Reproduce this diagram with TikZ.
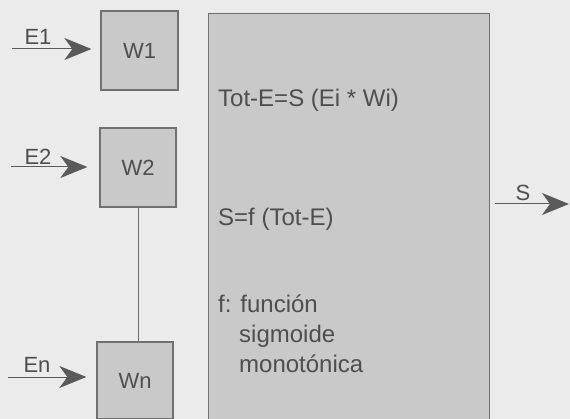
\documentclass[tikz,border=0pt]{standalone}
\usepackage{fontspec}
\setmainfont{Liberation Sans}
\usetikzlibrary{arrows.meta}
\definecolor{bg}{HTML}{EBEBEB}
\definecolor{boxfill}{HTML}{C9C9C9}
\definecolor{boxline}{HTML}{707070}
\definecolor{ink}{HTML}{4E4E4E}
\definecolor{arrowc}{HTML}{5A5A5A}
\begin{document}
\begin{tikzpicture}[x=1pt,y=-1pt,
  wbox/.style={draw=boxline, fill=boxfill, line width=1.3pt, minimum width=77pt, minimum height=79pt, inner sep=0pt, text=ink, font=\fontsize{22}{26}\selectfont},
  bigbox/.style={draw=boxline, fill=boxfill, line width=1.3pt, minimum width=281pt, minimum height=420pt, inner sep=0pt},
  lbl/.style={text=ink, font=\fontsize{22}{26}\selectfont, inner sep=0pt},
  txt/.style={text=ink, font=\fontsize{24}{30}\selectfont, inner sep=0pt, anchor=base west},
  inarrow/.style={draw=arrowc, line width=1pt, -{Stealth[length=27pt, width=22pt, inset=8pt]}}
]
\useasboundingbox (0,0) rectangle (570,419);
\fill[bg] (0,0) rectangle (570,419);
\clip (0,0) rectangle (570,419);
% weight boxes
\node[wbox] (w1) at (139.5,50.5) {W1};
\node[wbox, minimum width=76pt] (w2) at (138,167.5) {W2};
\node[wbox, minimum width=76pt, minimum height=77pt] (wn) at (135,380.5) {Wn};
% big processing box
\node[bigbox, anchor=north west] (big) at (208,13) {};
% texts in big box
\node[txt] (t1) at (218,107) {Tot-E=S (Ei * Wi)};
\node[txt] (t2) at (218,226) {S=f (Tot-E)};
\node[txt] (t3) at (218,313) {f: función};
\node[txt] (t4) at (239,343) {sigmoide};
\node[txt] (t5) at (239,373) {monotónica};
% input coordinates
\coordinate (e1) at (12,49);
\coordinate (e2) at (11,167);
\coordinate (en) at (8,377);
\coordinate (sout) at (495,204);
\coordinate (send) at (569,204);
% connectors
\draw[inarrow, shorten >=9pt] (e1) -- (e1 -| w1.west);
\draw[inarrow, shorten >=12pt] (e2) -- (e2 -| w2.west);
\draw[inarrow, shorten >=10pt] (en) -- (en -| wn.west);
\draw[draw=boxline, line width=1pt] (w2.south) -- (w2.south |- wn.north);
\draw[inarrow] (sout) -- (send);
% labels
\node[lbl] (le1) at (38,37) {E1};
\node[lbl] (le2) at (38,157) {E2};
\node[lbl] (len) at (37,365) {En};
\node[lbl] (ls) at (523,193) {S};
\end{tikzpicture}
\end{document}
